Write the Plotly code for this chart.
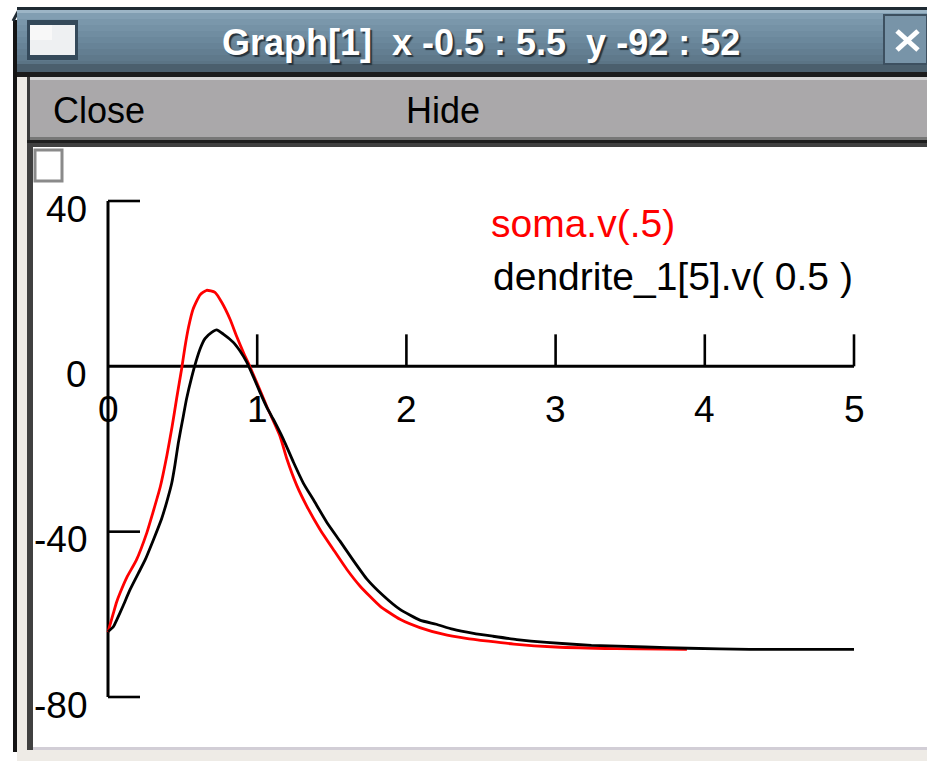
import plotly.graph_objects as go

# ---------------- data ----------------
soma_t = [0, 0.013, 0.036, 0.058, 0.08, 0.127, 0.19, 0.26, 0.30, 0.35, 0.395, 0.43, 0.46, 0.494,
          0.515, 0.54, 0.57, 0.617, 0.661, 0.717, 0.762, 0.818, 0.862, 0.907, 0.95, 0.997,
          1.063, 1.153, 1.198, 1.265, 1.332, 1.42, 1.51, 1.6, 1.69, 1.823, 1.957, 2.09,
          2.245, 2.40, 2.55, 2.72, 3.0, 3.4, 3.88]
soma_v = [-64.3, -62.6, -59.7, -57.0, -54.9, -51.0, -46.9, -40.3, -35.5, -29.2, -21.5, -14.5, -7.8, -0.5,
          4.5, 9.5, 13.8, 17.3, 18.4, 17.9, 15.5, 11.4, 7.3, 3.4, 0.0, -3.9,
          -9.6, -16.9, -22.3, -28.8, -33.8, -39.4, -44.3, -49.1, -53.2, -58.0, -61.2, -63.2,
          -64.8, -65.8, -66.5, -67.2, -67.9, -68.3, -68.5]

dend_t = [0, 0.036, 0.058, 0.103, 0.147, 0.203, 0.248, 0.304, 0.36, 0.393, 0.427, 0.449, 0.471,
          0.505, 0.527, 0.561, 0.59, 0.617, 0.65, 0.695, 0.728, 0.773, 0.84, 0.885, 0.93, 0.974,
          1.019, 1.063, 1.108, 1.175, 1.243, 1.31, 1.377, 1.466, 1.555, 1.645, 1.734, 1.846,
          1.957, 2.09, 2.2, 2.31, 2.45, 2.58, 2.74, 2.94, 3.24, 3.6, 3.89, 4.3, 5.0]
dend_v = [-64.2, -63.0, -61.4, -57.8, -54.1, -50.1, -46.9, -42.0, -36.8, -32.9, -28.3, -23.8, -18.6,
          -12.0, -7.8, -2.6, 1.2, 4.2, 6.7, 8.2, 8.8, 7.8, 5.8, 3.7, 1.0, -2.5,
          -6.3, -9.8, -12.8, -17.6, -23.2, -28.3, -32.3, -37.7, -42.3, -47.0, -51.4, -55.5,
          -58.8, -61.4, -62.4, -63.6, -64.6, -65.3, -66.1, -66.8, -67.5, -67.9, -68.2, -68.5, -68.5]

x_ticks = [0, 1, 2, 3, 4, 5]
x_tick_labels = ["0", "1", "2", "3", "4", "5"]
y_ticks = [40, 0, -40, -80]
y_tick_labels = ["40", "0", "-40", "-80"]

window_title = "Graph[1]\u00a0\u00a0x -0.5 : 5.5\u00a0\u00a0y -92 : 52"
menu_items = ["Close", "Hide"]
series_names = ["soma.v(.5)", "dendrite_1[5].v( 0.5 )"]
series_colors = ["#ff0000", "#000000"]

# ---------------- geometry ----------------
FW, FH = 927, 761
ML, MT, MR, MB = 33, 151, 0, 14
PW, PH = FW - ML - MR, FH - MT - MB
XSCALE = 746 / 5.0
XMIN = -(108 - ML) / XSCALE
XMAX = XMIN + PW / XSCALE
YSCALE = 496 / 120.0
YMAX = 40 + (201 - MT) / YSCALE
YMIN = YMAX - PH / YSCALE


def px(x):
    return (x - ML) / PW


def py(y):
    return (MT + PH - y) / PH


shapes = []


def rect(x0, y0, x1, y1, fill, line_color=None, lw=0):
    shapes.append(dict(type="rect", xref="paper", yref="paper",
                       x0=px(x0), x1=px(x1), y0=py(y1), y1=py(y0),
                       fillcolor=fill, line=dict(color=line_color or fill, width=lw),
                       layer="above"))


def pline(x0, y0, x1, y1, color, lw):
    shapes.append(dict(type="line", xref="paper", yref="paper",
                       x0=px(x0), x1=px(x1), y0=py(y0), y1=py(y1),
                       line=dict(color=color, width=lw), layer="above"))


# window frame --------------------------------------------------------
rect(13, 20, 17, 752, "#141414")           # outer left dark edge
rect(17, 77, 27, 761, "#eeebe6")           # beige left strip
rect(17, 7, 927, 10, "#1f2a33")            # title bar top line
pline(13, 21, 20, 8, "#1f2a33", 3)         # rounded corner
bands = ["#9cb5c6", "#819eb2", "#7a97ab", "#7592a6", "#708da1", "#6b889c",
         "#678397", "#637e91", "#5f798b", "#5b7485"]
y = 10
for i, c in enumerate(bands):
    h = 3 if i == 0 else 6
    rect(17, y, 927, y + h, c)
    y += h
rect(17, 64, 927, 72, "#4b5f6d")
rect(17, 72, 927, 77, "#1c1c1c")
rect(27, 77, 927, 80, "#d4d4d4")
rect(30, 80, 927, 137, "#aaa8aa")          # menu bar
rect(27, 77, 30, 140, "#3a3a3a")
rect(30, 137, 927, 140, "#777777")
rect(27, 140, 927, 143, "#1e1e1e")
rect(27, 143, 927, 147, "#404040")
rect(27, 143, 33, 750, "#404040")          # canvas left border
rect(33, 747, 927, 750, "#d2ced6")         # canvas bottom edge
rect(27, 750, 927, 761, "#eeebe6")

# window icon
rect(27, 20, 78, 60, "#34495a")
rect(30, 25, 75, 55, "#eef0f2")
rect(30, 25, 52, 40, "#f8f8f8")

# close button
rect(884, 15, 927, 64, "#7894a8", "#3d5060", 2)
pline(897, 31, 918, 50, "#ffffff", 5)
pline(918, 31, 897, 50, "#ffffff", 5)

# checkbox
rect(35, 150, 62, 181, "#ffffff", "#8a8a8a", 3)

# axes drawn in data coordinates from tick arrays -------------------------
AX_W = 3
TICK_PX = 32
shapes.append(dict(type="line", xref="x", yref="y", x0=0, x1=0,
                   y0=min(y_ticks), y1=max(y_ticks),
                   line=dict(color="black", width=AX_W), layer="below"))
shapes.append(dict(type="line", xref="x", yref="y", x0=min(x_ticks), x1=max(x_ticks),
                   y0=0, y1=0, line=dict(color="black", width=AX_W), layer="below"))
for xt in x_ticks[1:]:
    shapes.append(dict(type="line", xref="x", yref="y", x0=xt, x1=xt,
                       y0=0, y1=TICK_PX / YSCALE,
                       line=dict(color="black", width=2.6), layer="below"))
for yt in y_ticks:
    if yt == 0:
        continue
    shapes.append(dict(type="line", xref="x", yref="y", x0=0, x1=TICK_PX / XSCALE,
                       y0=yt, y1=yt, line=dict(color="black", width=2.6), layer="below"))

annotations = []
TICK_FONT = dict(family="Liberation Sans, Arial, sans-serif", size=37, color="black")
for xt, lab in zip(x_ticks, x_tick_labels):
    annotations.append(dict(x=xt, y=0, xref="x", yref="y", text=lab, showarrow=False,
                            xanchor="center", yanchor="middle", yshift=-43, font=TICK_FONT))
for yt, lab in zip(y_ticks, y_tick_labels):
    annotations.append(dict(x=0, y=yt, xref="x", yref="y", text=lab, showarrow=False,
                            xanchor="right", yanchor="middle", xshift=-19, yshift=-8,
                            font=TICK_FONT))

# series labels
LEG_FONT = "Liberation Sans, Arial, sans-serif"
leg_pos = [(489, 223), (491, 276)]
for name, col, (lx, ly) in zip(series_names, series_colors, leg_pos):
    annotations.append(dict(x=px(lx), y=py(ly), xref="paper", yref="paper", text=name,
                            showarrow=False, xanchor="left", yanchor="middle",
                            font=dict(family=LEG_FONT, size=39, color=col)))

# title bar text with shadow
annotations.append(dict(x=px(481), y=py(43), xref="paper", yref="paper",
                        text="<b>" + window_title + "</b>", showarrow=False,
                        xanchor="center", yanchor="middle",
                        font=dict(family="Liberation Sans, Arial, sans-serif", size=36,
                                  color="#ffffff", shadow="2px 2px 1px #26333d")))

# menu items
for lab, mx in zip(menu_items, [51, 404]):
    annotations.append(dict(x=px(mx), y=py(110), xref="paper", yref="paper", text=lab,
                            showarrow=False, xanchor="left", yanchor="middle",
                            font=dict(family="Liberation Sans, Arial, sans-serif",
                                      size=36, color="black")))

# ---------------- figure ----------------
fig = go.Figure()
fig.add_trace(go.Scatter(x=soma_t, y=soma_v, mode="lines", name=series_names[0],
                         line=dict(color=series_colors[0], width=2.8, shape="spline", smoothing=0.5),
                         hoverinfo="skip"))
fig.add_trace(go.Scatter(x=dend_t, y=dend_v, mode="lines", name=series_names[1],
                         line=dict(color=series_colors[1], width=2.8, shape="spline", smoothing=0.5),
                         hoverinfo="skip"))

fig.update_layout(
    width=FW, height=FH,
    margin=dict(l=ML, r=MR, t=MT, b=MB, pad=0, autoexpand=False),
    paper_bgcolor="white", plot_bgcolor="white",
    showlegend=False,
    xaxis=dict(range=[XMIN, XMAX], visible=False, fixedrange=True),
    yaxis=dict(range=[YMIN, YMAX], visible=False, fixedrange=True),
    shapes=shapes, annotations=annotations,
)

fig.write_html("out.html", config={"displayModeBar": False},
               post_script="document.body.style.margin='0';document.body.style.overflow='hidden';")
